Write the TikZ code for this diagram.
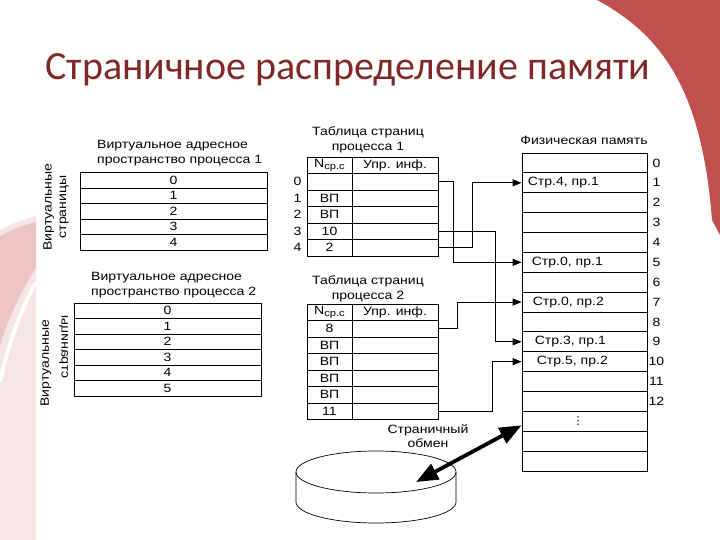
\documentclass[tikz,border=0pt]{standalone}
\usepackage{fontspec}
\usepackage{graphicx}
\usetikzlibrary{arrows.meta}
\setmainfont{Liberation Sans}
\newfontfamily\titlefont{Carlito}
\newfontfamily\dgfont[FakeStretch=1.17]{Liberation Sans}
\newfontfamily\symfont{DejaVu Sans}
\definecolor{slidered}{RGB}{192,80,77}
\definecolor{titlered}{RGB}{128,40,40}
\definecolor{pinklight}{RGB}{247,228,228}
\definecolor{pinkmid}{RGB}{236,196,196}
\begin{document}
\begin{tikzpicture}[x=1pt,y=-1pt,
  cell/.style={draw, line width=0.8pt, inner sep=0pt, minimum height=16.5pt, font=\dgfont\fontsize{12}{13}\selectfont},
  vcell/.style={cell, minimum width=187pt, minimum height=15.5pt},
  ncell/.style={cell, minimum width=45pt},
  icell/.style={cell, minimum width=86pt},
  mcell/.style={cell, minimum width=125pt, minimum height=19.875pt},
  lbl/.style={font=\dgfont\fontsize{12}{14.5}\selectfont, inner sep=0pt},
  link/.style={-{Triangle[length=9pt,width=7pt]}, line width=0.8pt},
  swaparrow/.style={{Triangle[length=22pt,width=17pt]}-{Triangle[length=22pt,width=17pt]}, line width=3.8pt}]
\useasboundingbox (0,0) rectangle (720,540);
% slide decoration
\fill[slidered] (597,0) .. controls (662,35) and (702,90) .. (712,220) -- (720,235) -- (720,0) -- cycle;
\fill[pinklight] (0,230) .. controls (15,222) and (28,218) .. (36,216) -- (36,540) -- (0,540) -- cycle;
\fill[pinkmid] (0,236) .. controls (15,228) and (28,224) .. (36,222) -- (36,268) .. controls (20,292) and (8,320) .. (0,345) -- cycle;
\draw[white, line width=4pt] (36,282) .. controls (20,312) and (8,345) .. (0,382);
\node[font=\titlefont\fontsize{40}{40}\selectfont, text=titlered, anchor=base west, inner sep=0pt] (title) at (45,80) {Страничное распределение памяти};

% virtual address spaces
\node[lbl, align=left, anchor=west] (vatitle) at (97,153) {Виртуальное адресное\\пространство процесса 1};
\foreach \i in {0,...,4}
  \node[vcell] (va\i) at (173.5,{180.25+15.5*\i}) {\i};
\node[lbl, align=center, rotate=90] (valbl) at (56,207) {Виртуальные\\страницы};

\node[lbl, align=left, anchor=west] (vbtitle) at (91,285) {Виртуальное адресное\\пространство процесса 2};
\foreach \i in {0,...,5}
  \node[vcell] (vb\i) at (167.5,{310.75+15.5*\i}) {\i};
\node[lbl, rotate=90] (vblbl) at (46,363) {Виртуальные};
\node[lbl] (vblbl2) at (63.5,347) {\reflectbox{\rotatebox{90}{страницы}}};

% page tables
\node[lbl, align=center] (patitle) at (368,140) {Таблица страниц\\процесса 1};
\node[ncell] (nah) at (329.5,165.25) {N\raisebox{-2.5pt}{\fontsize{9.5}{9.5}\selectfont ср.с}};
\node[icell] (pah) at (395,165.25) {Упр. инф.};
\foreach \i/\t in {0/{},1/ВП,2/ВП,3/10,4/2} {
  \node[ncell] (na\i) at (329.5,{181.75+16.5*\i}) {\t};
  \node[icell] (pa\i) at (395,{181.75+16.5*\i}) {};
  \node[lbl] at ([xshift=-9pt]na\i.west) {\i};
}

\node[lbl, align=center] (pbtitle) at (368,289) {Таблица страниц\\процесса 2};
\node[ncell] (nbh) at (329.5,312.25) {N\raisebox{-2.5pt}{\fontsize{9.5}{9.5}\selectfont ср.с}};
\node[icell] (pbh) at (395,312.25) {Упр. инф.};
\foreach \i/\t in {0/8,1/ВП,2/ВП,3/ВП,4/ВП,5/11} {
  \node[ncell] (nb\i) at (329.5,{328.75+16.5*\i}) {\t};
  \node[icell] (pb\i) at (395,{328.75+16.5*\i}) {};
}

% physical memory
\node[lbl] (pmtitle) at (584,140) {Физическая память};
\foreach \i in {0,...,15}
  \node[mcell] (pm\i) at (584.5,{162.94+19.875*\i}) {};
\foreach \i in {0,...,12}
  \node[lbl] at ([xshift=9pt]pm\i.east) {\i};
\foreach \r/\s/\t in {1/6/{Стр.4, пр.1},5/10/{Стр.0, пр.1},7/11/{Стр.0, пр.2},9/13/{Стр.3, пр.1},10/15/{Стр.5, пр.2}}
  \node[lbl, anchor=west] at ([xshift=\s pt]pm\r.west) {\t};
\node[font=\symfont\fontsize{11}{11}\selectfont, inner sep=0pt] (dots) at ([xshift=-6.5pt]pm13.center) {⋮};

% page mapping
\draw[link] (pa0.east) -- ++(15,0) |- (pm5.west);
\draw[link] (pa4.east) -- ++(34,0) |- (pm1.west);
\draw[link] (pa3.east) -- ++(57,0) |- (pm9.west);
\draw[link] (pb0.east) -- ++(19,0) |- (pm7.west);
\draw[link] (pb5.east) -- ++(54,0) |- (pm10.west);

% disk and page swapping
\filldraw[fill=white, line width=0.7pt] (296,472) -- (296,502) arc (180:360:80pt and 21pt) -- (456,472);
\draw[line width=0.7pt] (376,472) ellipse (80pt and 21pt);
\coordinate (disk) at (416,482);
\node[lbl, align=center] (swaplbl) at (428,436) {Страничный\\обмен};
\draw[swaparrow] (disk) -- ([yshift=-4pt]pm13.west);
\end{tikzpicture}
\end{document}
